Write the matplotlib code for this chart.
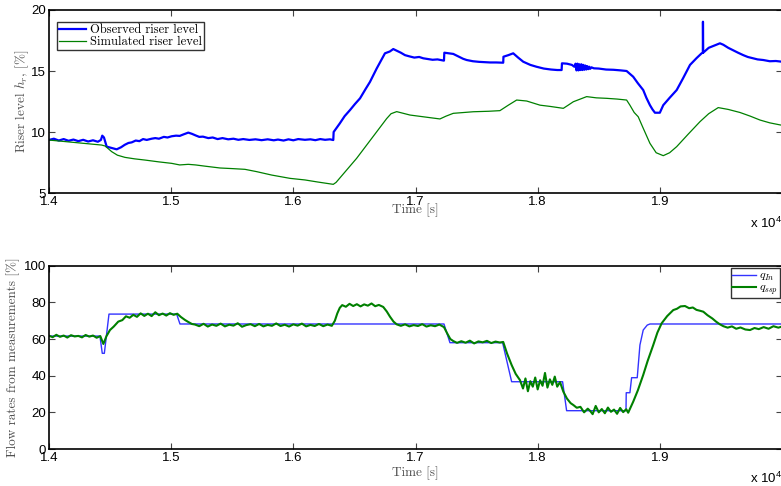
import matplotlib
matplotlib.use("Agg")
import matplotlib.pyplot as plt
from matplotlib.ticker import FuncFormatter, MultipleLocator

# ---------------- data ----------------
# Top panel: observed riser level (time [s], level [%])
obs_t = [14000, 14040, 14080, 14120, 14160, 14200, 14240, 14280, 14320, 14360, 14400, 14425,
         14436, 14450, 14472, 14510, 14554, 14590, 14620, 14650, 14677, 14710, 14740, 14770,
         14800, 14840, 14870, 14900, 14940, 14970, 15004, 15040, 15070, 15100, 15140, 15170,
         15200, 15230, 15260, 15304, 15340, 15380, 15420, 15467, 15510, 15550, 15590, 15640,
         15690, 15740, 15790, 15840, 15874, 15920, 15960, 16000, 16040, 16095, 16140, 16180,
         16220, 16260, 16300, 16327, 16330, 16380, 16420, 16464, 16505, 16546, 16590, 16627,
         16682, 16720, 16750, 16790, 16818, 16850, 16880, 16914, 16950, 16990, 17030, 17064,
         17100, 17140, 17180, 17233, 17236, 17270, 17309, 17350, 17390, 17419, 17470, 17520,
         17570, 17610, 17660, 17718, 17720, 17760, 17800, 17840, 17882, 17940, 17990, 18050,
         18110, 18160, 18196, 18199, 18240, 18280, 18300, 18310, 18318, 18326, 18334, 18342,
         18350, 18358, 18366, 18374, 18382, 18390, 18398, 18406, 18414, 18422, 18430, 18440,
         18460, 18500, 18560, 18620, 18680, 18728, 18782, 18820, 18864, 18890, 18919, 18940,
         18960, 19000, 19028, 19080, 19138, 19190, 19247, 19300, 19342, 19352, 19353, 19355,
         19400, 19450, 19492, 19520, 19560, 19600, 19640, 19683, 19720, 19760, 19800, 19847,
         19900, 19950, 20000]
obs_v = [9.35, 9.45, 9.30, 9.42, 9.28, 9.38, 9.25, 9.36, 9.22, 9.32, 9.20, 9.35,
         9.70, 9.55, 8.80, 8.70, 8.58, 8.75, 8.95, 9.10, 9.15, 9.30, 9.25, 9.42,
         9.35, 9.45, 9.50, 9.45, 9.60, 9.55, 9.65, 9.70, 9.68, 9.80, 9.95, 9.85,
         9.72, 9.60, 9.62, 9.50, 9.55, 9.42, 9.50, 9.40, 9.45, 9.36, 9.42, 9.35,
         9.40, 9.33, 9.40, 9.32, 9.38, 9.30, 9.40, 9.32, 9.42, 9.36, 9.40, 9.33,
         9.42, 9.36, 9.40, 9.34, 10.00, 10.70, 11.30, 11.80, 12.30, 12.76, 13.50, 14.10,
         15.20, 15.90, 16.45, 16.60, 16.80, 16.65, 16.50, 16.30, 16.20, 16.10, 16.15, 16.04,
         15.98, 15.92, 15.95, 15.85, 16.50, 16.45, 16.40, 16.20, 16.00, 15.90, 15.80, 15.75,
         15.72, 15.70, 15.70, 15.68, 16.17, 16.30, 16.45, 16.10, 15.76, 15.50, 15.35, 15.20,
         15.12, 15.08, 15.08, 15.63, 15.60, 15.50, 15.35, 15.60, 15.05, 15.60, 15.05, 15.55,
         15.08, 15.55, 15.08, 15.50, 15.10, 15.45, 15.12, 15.40, 15.15, 15.35, 15.18, 15.30,
         15.22, 15.20, 15.12, 15.10, 15.05, 15.00, 14.53, 14.00, 13.44, 12.80, 12.20, 11.85,
         11.58, 11.58, 12.20, 12.80, 13.44, 14.40, 15.50, 16.05, 16.45, 16.50, 19.04, 16.50,
         16.90, 17.10, 17.27, 17.15, 16.90, 16.70, 16.50, 16.30, 16.15, 16.05, 15.95, 15.90,
         15.80, 15.82, 15.76]

# Top panel: simulated riser level
sim_t = [14000, 14200, 14431, 14460, 14513, 14560, 14622, 14700, 14786, 14900, 15004, 15070,
         15140, 15200, 15277, 15400, 15500, 15604, 15700, 15823, 15973, 16095, 16200, 16327,
         16350, 16518, 16764, 16800, 16846, 16955, 17100, 17200, 17250, 17309, 17473, 17600,
         17691, 17760, 17828, 17910, 18019, 18100, 18210, 18250, 18292, 18401, 18480, 18565,
         18650, 18728, 18755, 18790, 18823, 18860, 18919, 18970, 19028, 19080, 19138, 19230,
         19329, 19400, 19478, 19560, 19656, 19740, 19820, 19900, 20000]
sim_v = [9.34, 9.15, 8.93, 8.85, 8.39, 8.10, 7.92, 7.80, 7.70, 7.55, 7.43, 7.30,
         7.35, 7.30, 7.20, 7.05, 7.00, 6.94, 6.75, 6.47, 6.20, 6.07, 5.90, 5.71,
         5.87, 7.84, 11.10, 11.50, 11.67, 11.39, 11.20, 11.07, 11.30, 11.53, 11.66, 11.70,
         11.75, 12.20, 12.62, 12.54, 12.20, 12.10, 11.94, 12.20, 12.48, 12.90, 12.80, 12.76,
         12.70, 12.62, 12.20, 11.60, 11.25, 10.40, 9.07, 8.30, 8.06, 8.30, 8.80, 9.80,
         10.85, 11.50, 12.00, 11.85, 11.60, 11.30, 10.98, 10.75, 10.55]

# Bottom panel: q_In
qin_t = [14000, 14417, 14436, 14453, 14491, 15045, 15072, 17233, 17282, 17713, 17787, 18204,
         18237, 18723, 18725, 18755, 18769, 18815, 18837, 18864, 18897, 18919, 20000]
qin_v = [61.6, 61.6, 52.2, 52.2, 73.6, 73.6, 68.2, 68.2, 58.0, 58.0, 36.7, 36.7,
         20.9, 20.9, 30.7, 30.7, 38.9, 38.9, 56.7, 64.9, 67.6, 68.2, 68.2]

# Bottom panel: q_ssp
qssp_t = [14000, 14030, 14060, 14090, 14120, 14150, 14180, 14210, 14240, 14270, 14300, 14330,
          14360, 14390, 14420, 14445, 14470, 14499, 14530, 14567, 14600, 14630, 14660, 14690,
          14720, 14750, 14780, 14810, 14840, 14870, 14900, 14930, 14960, 14990, 15020, 15050,
          15080, 15113, 15140, 15170, 15195, 15230, 15265, 15300, 15335, 15370, 15405, 15440,
          15475, 15510, 15545, 15580, 15615, 15650, 15685, 15720, 15755, 15790, 15825, 15860,
          15895, 15930, 15965, 16000, 16035, 16070, 16105, 16140, 16175, 16210, 16245, 16280,
          16315, 16340, 16360, 16380, 16400, 16430, 16460, 16490, 16520, 16550, 16580, 16610,
          16640, 16670, 16700, 16736, 16765, 16791, 16820, 16846, 16880, 16915, 16950, 16985,
          17020, 17055, 17090, 17125, 17160, 17195, 17233, 17260, 17285, 17309, 17340, 17375,
          17410, 17445, 17480, 17515, 17550, 17585, 17620, 17655, 17690, 17718, 17750, 17787,
          17820, 17855, 17880, 17900, 17920, 17940, 17960, 17980, 18000, 18020, 18040, 18060,
          18080, 18100, 18120, 18140, 18160, 18183, 18210, 18240, 18270, 18292, 18320, 18350,
          18380, 18410, 18428, 18450, 18475, 18500, 18525, 18550, 18575, 18600, 18625, 18650,
          18675, 18700, 18725, 18741, 18782, 18820, 18864, 18900, 18946, 18980, 19015, 19060,
          19110, 19140, 19170, 19206, 19240, 19270, 19300, 19330, 19356, 19390, 19430, 19460,
          19492, 19520, 19555, 19590, 19625, 19660, 19700, 19738, 19775, 19810, 19850, 19890,
          19930, 19970, 20000]
qssp_v = [61.8, 61.0, 62.3, 61.2, 61.9, 60.8, 62.1, 61.4, 61.7, 60.9, 62.2, 61.3,
          61.9, 60.7, 61.6, 57.3, 61.5, 64.9, 66.8, 69.5, 70.3, 72.4, 71.6, 73.2,
          72.1, 74.0, 72.6, 73.8, 72.5, 74.6, 73.0, 73.9, 72.8, 74.1, 73.2, 73.8,
          72.0, 70.4, 69.3, 68.2, 67.9, 67.0, 68.3, 66.8, 67.9, 67.2, 68.4, 66.9,
          67.8, 67.3, 68.6, 66.7, 67.6, 68.1, 67.0, 68.2, 66.9, 67.7, 67.2, 68.5,
          67.1, 67.8, 66.8, 68.0, 67.3, 68.4, 66.9, 67.7, 67.1, 68.2, 67.0, 67.9,
          67.2, 70.0, 74.0, 77.0, 78.5, 77.6, 79.2, 78.0, 79.0, 77.8, 78.9, 78.2,
          79.4, 77.9, 78.6, 77.5, 75.0, 72.2, 69.5, 68.0, 67.2, 68.0, 66.9, 67.6,
          67.1, 68.1, 66.8, 67.5, 67.0, 67.9, 66.5, 63.0, 60.0, 58.9, 57.9, 58.8,
          58.0, 59.1, 57.6, 58.7, 58.2, 59.0, 57.8, 58.6, 58.1, 58.4, 52.0, 45.8,
          41.0, 37.6, 33.0, 38.5, 31.5, 37.0, 34.0, 39.0, 32.5, 37.5, 34.5, 41.5,
          33.5, 38.0, 35.0, 39.5, 34.0, 36.5, 31.3, 27.5, 25.0, 24.0, 22.5, 23.0,
          20.0, 22.0, 20.9, 19.0, 23.5, 20.0, 21.8, 19.5, 22.6, 20.3, 21.5, 19.2,
          22.4, 20.1, 21.7, 19.8, 25.8, 32.0, 40.4, 48.0, 56.7, 63.5, 68.6, 72.5,
          75.8, 76.5, 77.8, 78.0, 76.8, 77.2, 75.9, 75.4, 74.9, 73.0, 71.2, 69.5,
          68.0, 67.0, 66.2, 66.9, 65.6, 66.3, 65.2, 64.9, 66.0, 65.4, 66.5, 65.6,
          67.0, 66.2, 66.8]

x_ticks = [14000, 15000, 16000, 17000, 18000, 19000]

# ---------------- style ----------------
plt.rcParams['mathtext.fontset'] = 'cm'
plt.rcParams['axes.unicode_minus'] = False
tick_font = ['Liberation Sans', 'DejaVu Sans']
label_font = ['cmr10', 'DejaVu Serif']
label_color = '#505050'

fig = plt.figure(figsize=(7.81, 4.86), dpi=100)
W, H = 781.0, 486.0
left, right = 49 / W, 782 / W
ax1 = fig.add_axes([left, 1 - 193 / H, right - left, 183 / H])
ax2 = fig.add_axes([left, 1 - 449 / H, right - left, 183.3 / H])

ax1.plot(obs_t, obs_v, color='#0000ff', lw=1.6, label='Observed riser level')
ax1.plot(sim_t, sim_v, color='#008000', lw=0.9, label='Simulated riser level')
ax2.plot(qin_t, qin_v, color='#3333ff', lw=1.0, label=r'$q_{In}$')
ax2.plot(qssp_t, qssp_v, color='#008000', lw=1.5, label=r'$q_{ssp}$')

ax1.set_ylim(5, 20)
ax1.yaxis.set_major_locator(MultipleLocator(5))
ax2.set_ylim(0, 100)
ax2.yaxis.set_major_locator(MultipleLocator(20))

fmt = FuncFormatter(lambda v, p: f"{v / 1e4:.1f}")
for ax in (ax1, ax2):
    ax.set_xlim(14000, 20000)
    ax.set_xticks(x_ticks)
    ax.xaxis.set_major_formatter(fmt)
    ax.tick_params(direction='in', length=4, width=0.8, color='#444444',
                   top=True, right=True, labelsize=9.5, pad=2)
    for lab in ax.get_xticklabels() + ax.get_yticklabels():
        lab.set_family(tick_font)
    for sp in ax.spines.values():
        sp.set_linewidth(1.2)
    ax.set_xlabel('Time [s]', family=label_font, fontsize=9.5, color=label_color)

ax1.xaxis.set_label_coords(0.5, -0.093)
ax2.xaxis.set_label_coords(0.5, -0.131)
ax1.xaxis.label.set_va('center')
ax2.xaxis.label.set_va('center')

ax1.set_ylabel(r'Riser level $h_r$, [%]', family=label_font, fontsize=9.5, color=label_color)
ax2.set_ylabel('Flow rates from measurements [%]', family=label_font, fontsize=9.5,
               color=label_color)
ax1.yaxis.set_label_coords(-0.0368, 0.5)
ax2.yaxis.set_label_coords(-0.049, 0.5)
ax1.yaxis.label.set_va('center')
ax2.yaxis.label.set_va('center')

fig.text(766 / W, 1 - 223 / H, r'x 10$^{\mathregular{4}}$', family=tick_font, fontsize=9.5,
         ha='center', va='center')
fig.text(766 / W, 1 - 478 / H, r'x 10$^{\mathregular{4}}$', family=tick_font, fontsize=9.5,
         ha='center', va='center')

leg1 = ax1.legend(loc='upper left', bbox_to_anchor=(0.011, 0.934),
                  prop={'family': label_font, 'size': 9},
                  frameon=True, fancybox=False, borderpad=0.15, labelspacing=0.0,
                  handlelength=2.2, handletextpad=0.3, borderaxespad=0.0)
leg1.get_frame().set_edgecolor('black')
leg1.get_frame().set_linewidth(1.0)

leg2 = ax2.legend(loc='upper right', bbox_to_anchor=(0.997, 0.988), prop={'size': 8.5},
                  frameon=True, fancybox=False, borderpad=0.1, labelspacing=-0.2,
                  handlelength=2.0, handletextpad=0.3, borderaxespad=0.0)
leg2.get_frame().set_edgecolor('black')
leg2.get_frame().set_linewidth(1.0)

fig.savefig('out.png', dpi=100)
